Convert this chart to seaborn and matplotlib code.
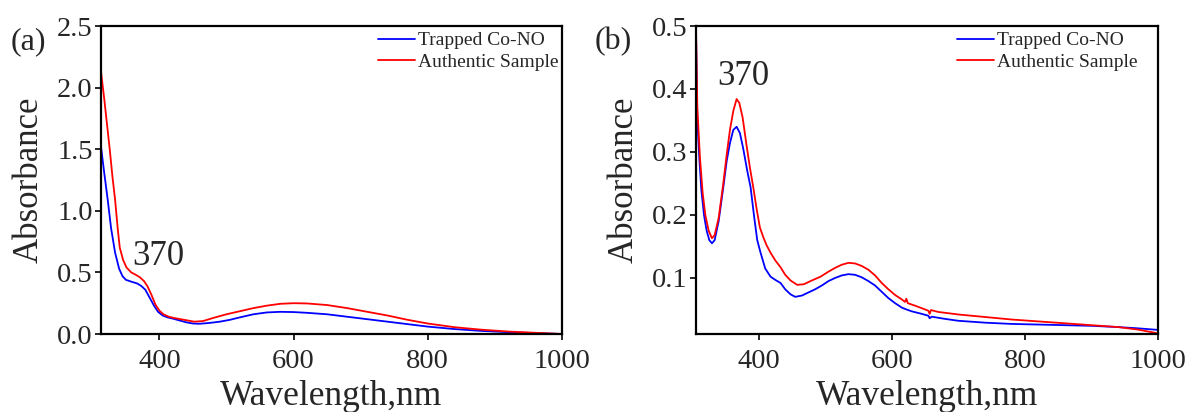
import numpy as np
import pandas as pd
import seaborn as sns
import matplotlib
matplotlib.use("Agg")
import matplotlib.pyplot as plt

# ---------------- data ----------------
series_names = ["Trapped Co-NO", "Authentic Sample"]

a_blue_wl = [313, 318, 323, 328, 334, 340, 345, 350, 358, 367, 373, 379, 385, 392, 398,
             405, 412, 420, 430, 440, 450, 460, 475, 490, 505, 520, 540, 560, 580, 600,
             620, 650, 680, 710, 740, 770, 800, 840, 880, 920, 960, 1000]
a_blue_abs = [1.52, 1.30, 1.09, 0.86, 0.66, 0.53, 0.47, 0.44, 0.425, 0.41, 0.39, 0.36, 0.30, 0.23, 0.18,
              0.15, 0.135, 0.125, 0.11, 0.095, 0.085, 0.083, 0.09, 0.10, 0.115, 0.135, 0.16, 0.175, 0.18, 0.178,
              0.172, 0.16, 0.14, 0.12, 0.10, 0.08, 0.06, 0.04, 0.025, 0.015, 0.007, 0.0]

a_red_wl = [313, 318, 322, 326, 330, 334, 338, 341, 346, 351, 358, 365, 371, 377, 382, 388, 394,
            400, 406, 414, 422, 432, 442, 452, 465, 480, 500, 520, 540, 560, 580, 600, 620, 650,
            680, 710, 740, 770, 800, 840, 880, 920, 960, 1000]
a_red_abs = [2.13, 1.90, 1.70, 1.50, 1.28, 1.09, 0.85, 0.70, 0.60, 0.54, 0.50, 0.48, 0.46, 0.43, 0.39, 0.32, 0.24,
             0.19, 0.16, 0.14, 0.13, 0.12, 0.11, 0.10, 0.105, 0.13, 0.16, 0.185, 0.21, 0.23, 0.245, 0.25, 0.248, 0.235,
             0.21, 0.18, 0.15, 0.115, 0.085, 0.055, 0.035, 0.02, 0.01, 0.0]

b_blue_wl = [305, 308, 311, 314, 318, 322, 326, 330, 334, 340, 347, 352, 357, 362, 367, 372, 377, 383,
             388, 393, 398, 403, 410, 418, 425, 433, 440, 448, 455, 465, 475, 485, 495, 505, 515, 525,
             535, 545, 555, 565, 575, 585, 595, 605, 615, 622, 630, 645, 655, 657, 660, 680, 700, 740,
             780, 820, 860, 900, 940, 970, 1000]
b_blue_abs = [0.56, 0.35, 0.29, 0.24, 0.20, 0.175, 0.16, 0.155, 0.16, 0.19, 0.244, 0.285, 0.314, 0.335,
              0.34, 0.33, 0.305, 0.27, 0.244, 0.20, 0.16, 0.14, 0.115, 0.102, 0.097, 0.092, 0.082, 0.074,
              0.070, 0.072, 0.077, 0.082, 0.088, 0.095, 0.100, 0.104, 0.106, 0.105, 0.101, 0.095, 0.088,
              0.078, 0.068, 0.060, 0.053, 0.050, 0.047, 0.043, 0.040, 0.036, 0.0385, 0.035, 0.032, 0.029,
              0.027, 0.026, 0.025, 0.024, 0.022, 0.020, 0.0175]

b_red_wl = [305, 308, 312, 316, 320, 325, 330, 334, 340, 347, 352, 357, 362, 367, 371, 376, 382, 387,
            392, 397, 402, 407, 412, 418, 425, 433, 440, 448, 458, 468, 480, 493, 505, 515, 525, 535,
            545, 555, 565, 575, 585, 595, 605, 615, 620, 622, 624, 635, 645, 655, 657, 659, 670, 700,
            740, 780, 820, 860, 900, 940, 970, 1000]
b_red_abs = [0.56, 0.37, 0.29, 0.235, 0.20, 0.175, 0.163, 0.168, 0.195, 0.25, 0.295, 0.335, 0.365, 0.384,
             0.378, 0.355, 0.31, 0.275, 0.244, 0.21, 0.18, 0.165, 0.152, 0.14, 0.128, 0.117, 0.105, 0.096,
             0.089, 0.090, 0.096, 0.102, 0.110, 0.116, 0.121, 0.124, 0.123, 0.119, 0.113, 0.104, 0.092,
             0.082, 0.073, 0.066, 0.062, 0.067, 0.060, 0.056, 0.052, 0.048, 0.043, 0.049, 0.046, 0.042,
             0.038, 0.034, 0.031, 0.028, 0.025, 0.022, 0.018, 0.012]

a_yticks = [0.0, 0.5, 1.0, 1.5, 2.0, 2.5]
b_yticks = [0.1, 0.2, 0.3, 0.4, 0.5]
xticks = [400, 600, 800, 1000]
peak_label = "370"


def make_df(bw, ba, rw, ra):
    return pd.concat([
        pd.DataFrame({"wl": bw, "abs": ba, "sample": series_names[0]}),
        pd.DataFrame({"wl": rw, "abs": ra, "sample": series_names[1]}),
    ], ignore_index=True)


df_a = make_df(a_blue_wl, a_blue_abs, a_red_wl, a_red_abs)
df_b = make_df(b_blue_wl, b_blue_abs, b_red_wl, b_red_abs)

# ---------------- style ----------------
sns.set_style("ticks")
plt.rcParams["font.family"] = ["Liberation Serif", "DejaVu Serif"]
plt.rcParams["axes.linewidth"] = 1.6
plt.rcParams["xtick.major.width"] = 1.4
plt.rcParams["ytick.major.width"] = 1.4
plt.rcParams["xtick.major.size"] = 4
plt.rcParams["ytick.major.size"] = 4
plt.rcParams["axes.edgecolor"] = "black"

palette = {series_names[0]: "#0000ff", series_names[1]: "#ff0000"}

fig = plt.figure(figsize=(11.9, 4.12), dpi=100)
ax_a = fig.add_axes([101 / 1190, 1 - 334 / 412, (562 - 101) / 1190, (334 - 26) / 412])
ax_b = fig.add_axes([696 / 1190, 1 - 334 / 412, (1158 - 696) / 1190, (334 - 26) / 412])

for ax, df, xlim, ylim, yticks, lab, labx, peak_xy, leg_anchor in [
    (ax_a, df_a, (313, 1000), (0, 2.5), a_yticks, "(a)", 11, (359, 0.56), (1.004, 1.0)),
    (ax_b, df_b, (306, 1000), (0.011, 0.5), b_yticks, "(b)", 595, (338, 0.407), (0.968, 1.0)),
]:
    sns.lineplot(data=df, x="wl", y="abs", hue="sample", palette=palette, ax=ax,
                 linewidth=1.3, sort=False, estimator=None)
    ax.set_xlim(*xlim)
    ax.set_ylim(*ylim)
    ax.set_xticks(xticks)
    ax.set_yticks(yticks)
    ax.set_yticklabels(["%.1f" % t for t in yticks])
    ax.tick_params(labelsize=20.5, direction="out")
    ax.tick_params(axis="x", pad=7)
    ax.tick_params(axis="y", pad=2)
    ax.set_xlabel("Wavelength,nm", fontsize=25.5, labelpad=4)
    ax.set_ylabel("Absorbance", fontsize=25, labelpad=8)
    for s in ax.spines.values():
        s.set_visible(True)
        s.set_color("black")
    leg = ax.legend(loc="upper right", bbox_to_anchor=leg_anchor, frameon=False, fontsize=14,
                    handlelength=1.9, handletextpad=0.15, borderaxespad=0.0, borderpad=0.3,
                    labelspacing=0.2)
    for h in leg.get_lines():
        h.set_linewidth(1.3)
    ax.text(peak_xy[0], peak_xy[1], peak_label, fontsize=25, ha="left", va="baseline")
    fig.text(labx / 1190, 1 - 42 / 412, lab, fontsize=23, ha="left", va="center")

fig.savefig("out.png", dpi=100)
